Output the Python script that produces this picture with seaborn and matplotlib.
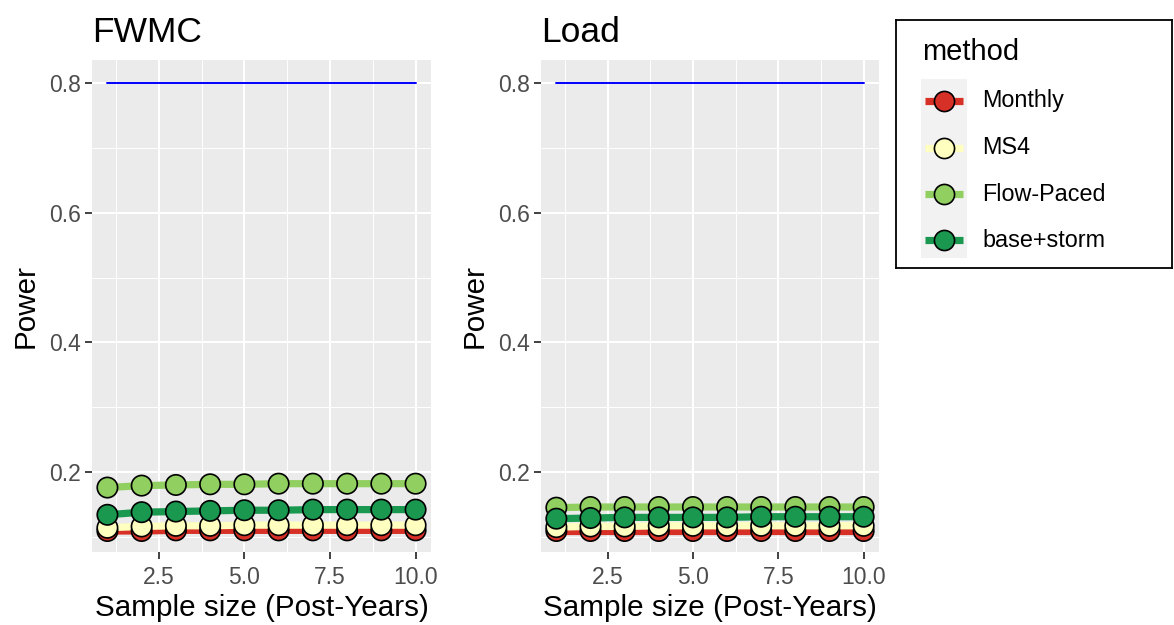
import numpy as np
import pandas as pd
import matplotlib
matplotlib.use("Agg")
import matplotlib.pyplot as plt
from matplotlib.patches import Rectangle
from matplotlib.lines import Line2D
import seaborn as sns

sns.set_theme(style="darkgrid")
plt.rcParams['font.family'] = ['Liberation Sans', 'DejaVu Sans']

years = [1, 2, 3, 4, 5, 6, 7, 8, 9, 10]
methods = ["Monthly", "MS4", "Flow-Paced", "base+storm"]
colors = ["#d73027", "#ffffbf", "#91cf60", "#1a9850"]

fwmc_monthly = [0.109, 0.109, 0.110, 0.110, 0.110, 0.110, 0.110, 0.110, 0.110, 0.110]
fwmc_ms4 = [0.114, 0.116, 0.117, 0.117, 0.118, 0.118, 0.118, 0.118, 0.118, 0.118]
fwmc_flow = [0.176, 0.179, 0.180, 0.181, 0.181, 0.182, 0.182, 0.182, 0.182, 0.182]
fwmc_bs = [0.134, 0.138, 0.139, 0.140, 0.141, 0.141, 0.142, 0.142, 0.142, 0.142]

load_monthly = [0.109, 0.109, 0.109, 0.109, 0.109, 0.109, 0.109, 0.109, 0.109, 0.109]
load_ms4 = [0.115, 0.116, 0.116, 0.117, 0.117, 0.117, 0.117, 0.117, 0.117, 0.117]
load_flow = [0.145, 0.146, 0.146, 0.146, 0.146, 0.146, 0.146, 0.146, 0.146, 0.146]
load_bs = [0.128, 0.129, 0.130, 0.130, 0.130, 0.130, 0.131, 0.131, 0.131, 0.131]

target_power = 0.8
panel_titles = ["FWMC", "Load"]
x_ticks = [2.5, 5.0, 7.5, 10.0]
y_ticks = [0.2, 0.4, 0.6, 0.8]


def make_df(series):
    rows = []
    for m, vals in zip(methods, series):
        for x, v in zip(years, vals):
            rows.append({"years": x, "power": v, "method": m})
    return pd.DataFrame(rows)


dfs = [make_df([fwmc_monthly, fwmc_ms4, fwmc_flow, fwmc_bs]),
       make_df([load_monthly, load_ms4, load_flow, load_bs])]

W, H = 1174, 625
fig = plt.figure(figsize=(W / 100, H / 100), dpi=100)
fig.patch.set_facecolor("white")

panels = [(92, 431), (541, 879)]
top_px, bot_px = 60, 552
palette = dict(zip(methods, colors))

for (lpx, rpx), df, title in zip(panels, dfs, panel_titles):
    ax = fig.add_axes([lpx / W, 1 - bot_px / H, (rpx - lpx) / W, (bot_px - top_px) / H])
    ax.set_facecolor("#EBEBEB")
    sns.lineplot(data=df, x="years", y="power", hue="method", hue_order=methods,
                 palette=palette, linewidth=5.2, legend=False, ax=ax, zorder=2)
    sns.scatterplot(data=df, x="years", y="power", hue="method", hue_order=methods,
                    palette=palette, s=215, edgecolor="black", linewidth=1.2,
                    legend=False, ax=ax, zorder=3)
    ax.plot([min(years), max(years)], [target_power, target_power], color="blue",
            linewidth=1.4, zorder=2)
    ax.set_xlim(0.55, 10.45)
    ax.set_ylim(0.0766, 0.8355)
    ax.set_xticks(x_ticks)
    ax.set_xticklabels([f"{t:.1f}" for t in x_ticks])
    ax.set_yticks(y_ticks)
    ax.set_yticklabels([f"{t:.1f}" for t in y_ticks])
    ax.set_xticks([1.25, 3.75, 6.25, 8.75], minor=True)
    ax.set_yticks([0.1, 0.3, 0.5, 0.7], minor=True)
    ax.grid(which="major", color="white", linewidth=1.5)
    ax.grid(which="minor", color="white", linewidth=0.7)
    ax.tick_params(which="major", length=5, width=1.3, color="#333333",
                   labelsize=16.5, labelcolor="#4D4D4D", pad=3)
    ax.tick_params(axis="x", pad=5)
    ax.tick_params(which="minor", length=0)
    ax.tick_params(axis="x", bottom=True)
    ax.tick_params(axis="y", left=True)
    for s in ax.spines.values():
        s.set_visible(False)
    ax.set_xlabel("Sample size (Post-Years)", fontsize=21.3, color="black", labelpad=4)
    ax.set_ylabel("Power", fontsize=21.3, color="black", labelpad=7)
    ax.set_title(title, loc="left", fontsize=25.5, color="black", pad=13)

# legend
lx0, ly0, lx1, ly1 = 896, 20, 1172, 268
lax = fig.add_axes([lx0 / W, 1 - ly1 / H, (lx1 - lx0) / W, (ly1 - ly0) / H])
lax.set_xlim(lx0, lx1)
lax.set_ylim(ly1, ly0)
lax.set_xticks([])
lax.set_yticks([])
lax.set_facecolor("white")
for s in lax.spines.values():
    s.set_visible(True)
    s.set_color("black")
    s.set_linewidth(1.3)
lax.grid(False)
lax.text(922, 52, "method", fontsize=21, va="center", ha="left", color="black")
lax.add_patch(Rectangle((921, 79), 46, 179, facecolor="#F2F2F2", edgecolor="none"))
key_y = [101, 148, 194, 240]
for m, c, yk in zip(methods, colors, key_y):
    lax.add_line(Line2D([925, 963], [yk, yk], color=c, linewidth=5.2,
                        solid_capstyle="butt"))
    lax.add_line(Line2D([944], [yk], marker="o", markersize=14.5, markerfacecolor=c,
                        markeredgecolor="black", markeredgewidth=1.2, linestyle="none"))
    lax.text(982, yk, m, fontsize=16.8, va="center", ha="left", color="black")

fig.savefig("out.png", dpi=100, facecolor="white")
